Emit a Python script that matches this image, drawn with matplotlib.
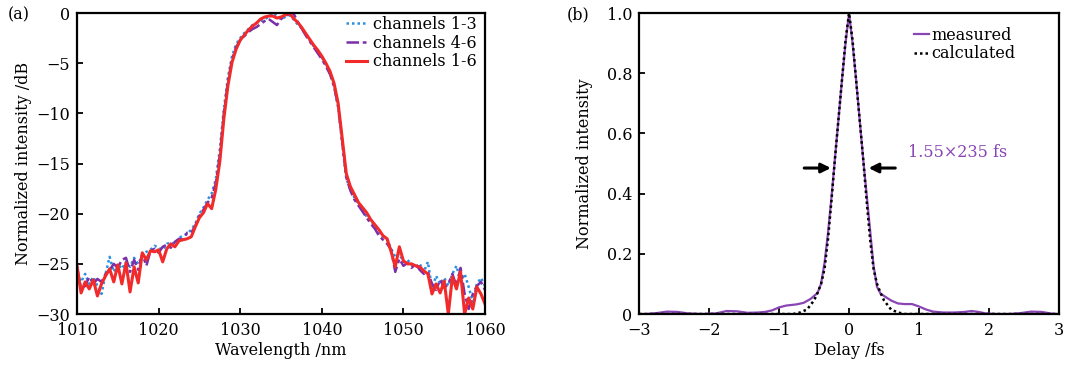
import matplotlib.pyplot as plt
import numpy as np

plt.rcParams['font.family'] = ['DejaVu Serif']
plt.rcParams['font.size'] = 11.5
plt.rcParams['mathtext.fontset'] = 'dejavuserif'

# (a) spectra, 0.5 nm step
wavelength = np.arange(1010, 1060.01, 0.5)

ch13 = [-26.0, -26.8, -26.0, -27.0, -26.3, -27.2, -28.0, -26.0, -24.3, -25.8,
        -25.0, -25.5, -24.8, -25.3, -24.4, -25.0, -24.2, -23.8, -23.6, -23.2,
        -23.4, -23.6, -23.0, -22.9, -23.0, -22.4, -22.2, -22.0, -21.6, -21.0,
        -20.0, -19.4, -18.6, -18.0, -16.6, -13.6, -9.5, -6.4, -4.3, -3.1,
        -2.5, -2.0, -1.6, -1.2, -1.0, -0.8, -0.6, -0.4, 0.0, -0.3,
        -0.6, -0.4, -0.2, -0.6, -1.1, -1.5, -2.1, -2.7, -3.3, -3.8,
        -4.4, -5.2, -6.0, -7.3, -9.4, -13.0, -16.5, -17.6, -18.4, -19.0,
        -19.6, -20.3, -20.7, -21.3, -21.8, -22.3, -22.6, -23.5, -24.3, -24.0,
        -24.8, -24.6, -25.1, -25.3, -25.0, -25.8, -24.8, -27.5, -26.2, -27.0,
        -26.4, -27.2, -26.0, -25.2, -26.7, -26.0, -27.3, -28.8, -27.0, -26.4,
        -27.2]

ch46 = [-25.3, -27.5, -27.2, -26.3, -27.0, -26.5, -26.8, -26.0, -25.6, -25.0,
        -25.4, -24.6, -24.4, -25.8, -24.6, -25.6, -24.0, -25.2, -23.7, -23.5,
        -23.9, -23.3, -23.1, -23.4, -22.8, -22.5, -22.6, -21.9, -21.9, -21.2,
        -20.2, -19.6, -18.9, -18.4, -17.0, -14.2, -10.0, -6.8, -4.6, -3.4,
        -2.7, -2.3, -1.9, -1.6, -1.4, -1.1, -0.8, -0.6, -0.9, -1.2,
        -0.6, -0.3, -0.1, 0.0, -0.8, -1.5, -2.2, -2.8, -3.4, -4.0,
        -4.6, -5.3, -6.1, -7.3, -9.3, -12.8, -16.4, -17.7, -18.6, -19.2,
        -19.8, -20.4, -21.0, -21.5, -22.2, -22.6, -23.0, -23.6, -25.8, -24.5,
        -25.2, -24.9, -25.4, -25.0, -25.6, -26.0, -25.8, -27.0, -27.6, -26.6,
        -27.4, -27.0, -26.0, -27.2, -25.4, -28.0, -29.5, -28.0, -27.2, -26.8,
        -27.6]

ch16 = [-25.2, -27.9, -26.8, -27.5, -26.6, -28.2, -27.0, -26.2, -25.5, -26.8,
        -25.1, -27.0, -24.9, -27.8, -25.3, -26.9, -23.9, -24.6, -23.7, -23.8,
        -23.6, -24.8, -23.5, -23.0, -23.3, -22.7, -22.6, -22.5, -22.3, -21.3,
        -20.4, -19.9, -19.0, -19.5, -17.6, -14.8, -10.5, -7.2, -4.9, -3.6,
        -2.7, -2.2, -1.7, -1.3, -1.0, -0.6, -0.4, -0.3, -0.3, -0.5,
        -0.4, -0.2, 0.0, -0.5, -0.9, -1.4, -2.0, -2.6, -3.2, -3.7,
        -4.3, -5.0, -5.8, -7.0, -9.0, -12.5, -16.0, -17.3, -18.1, -18.9,
        -19.4, -19.9, -20.6, -21.1, -21.6, -22.2, -22.5, -23.8, -25.3, -23.3,
        -24.7, -25.0, -25.0, -25.2, -25.3, -25.7, -26.0, -28.0, -27.0, -27.9,
        -26.7, -30.0, -26.3, -27.5, -25.8, -30.0, -28.4, -29.5, -27.3, -28.0,
        -29.0]

# (b) autocorrelation
delay_meas = [-3.0, -2.9, -2.75, -2.6, -2.45, -2.3, -2.1, -1.9, -1.75, -1.6,
              -1.45, -1.3, -1.2, -1.1, -1.0, -0.9, -0.75, -0.65, -0.55, -0.45,
              -0.4, -0.35, -0.3, -0.25, -0.2, -0.15, -0.1, -0.05, 0.0,
              0.05, 0.1, 0.15, 0.2, 0.25, 0.3, 0.35, 0.4, 0.45, 0.5,
              0.6, 0.7, 0.8, 0.9, 1.0, 1.1, 1.2, 1.35, 1.5, 1.65,
              1.75, 1.85, 1.95, 2.1, 2.3, 2.45, 2.6, 2.75, 2.9, 3.0]
measured = [0.0, 0.0, 0.003, 0.008, 0.007, 0.002, 0.0, 0.002, 0.010, 0.009,
            0.004, 0.005, 0.007, 0.012, 0.022, 0.028, 0.032, 0.037, 0.050, 0.070,
            0.100, 0.170, 0.270, 0.390, 0.520, 0.650, 0.780, 0.900, 1.0,
            0.900, 0.780, 0.650, 0.520, 0.400, 0.280, 0.160, 0.090, 0.068, 0.060,
            0.045, 0.035, 0.033, 0.033, 0.025, 0.015, 0.008, 0.005, 0.005, 0.007,
            0.010, 0.007, 0.002, 0.0, 0.0, 0.003, 0.008, 0.007, 0.001, 0.0]

delay_calc = [-3.0, -0.8, -0.7, -0.6, -0.5, -0.45, -0.4, -0.35, -0.3, -0.25,
              -0.2, -0.15, -0.1, -0.05, 0.0, 0.05, 0.1, 0.15, 0.2, 0.25,
              0.3, 0.35, 0.4, 0.45, 0.5, 0.6, 0.7, 0.8, 3.0]
calculated = [0.0, 0.0, 0.005, 0.015, 0.045, 0.07, 0.10, 0.15, 0.25, 0.38,
              0.52, 0.65, 0.78, 0.91, 1.0, 0.91, 0.78, 0.65, 0.52, 0.38,
              0.25, 0.15, 0.10, 0.07, 0.045, 0.015, 0.005, 0.0, 0.0]

fig = plt.figure(figsize=(10.8, 3.71), dpi=100)
ax1 = fig.add_axes([0.0713, 0.1536, 0.3778, 0.8113])
ax2 = fig.add_axes([0.5917, 0.1536, 0.3889, 0.8113])

ax1.plot(wavelength, ch13, ls=(0, (1, 1.2)), color='#2b8fe0', lw=1.8, label='channels 1-3')
ax1.plot(wavelength, ch46, ls=(0, (5, 1.5, 1.5, 1.5)), color='#7b2fa8', lw=1.8, label='channels 4-6')
ax1.plot(wavelength, ch16, ls='-', color='#f22a2a', lw=2.2, label='channels 1-6')
ax1.set_xlim(1010, 1060)
ax1.set_ylim(-30, 0)
ax1.set_xticks(range(1010, 1061, 10))
ax1.set_yticks(range(-30, 1, 5))
ax1.set_xlabel('Wavelength /nm', labelpad=2)
ax1.set_ylabel('Normalized intensity /dB', labelpad=3)
ax1.legend(loc='upper left', bbox_to_anchor=(0.66, 0.99), frameon=False,
           handlelength=1.3, handletextpad=0.35, labelspacing=0.1,
           borderaxespad=0, borderpad=0)
fig.text(8 / 1080, 0.96, '(a)', ha='left', va='center')

ax2.plot(delay_meas, measured, color='#8a45b5', lw=1.6, label='measured')
ax2.plot(delay_calc, calculated, ls=(0, (1, 1.2)), color='black', lw=1.8, label='calculated')
ax2.set_xlim(-3, 3)
ax2.set_ylim(0, 1.0)
ax2.set_xticks(range(-3, 4))
ax2.set_yticks([0, 0.2, 0.4, 0.6, 0.8, 1.0])
ax2.set_yticklabels(['0', '0.2', '0.4', '0.6', '0.8', '1.0'])
ax2.set_xlabel('Delay /fs', labelpad=2)
ax2.set_ylabel('Normalized intensity', labelpad=10)
ax2.legend(loc='upper left', bbox_to_anchor=(0.655, 0.955), frameon=False,
           handlelength=0.9, handletextpad=0.2, labelspacing=0.1,
           borderaxespad=0, borderpad=0)
fig.text(567 / 1080, 0.96, '(b)', ha='left', va='center')

ax2.annotate('', xy=(-0.22, 0.485), xytext=(-0.68, 0.485),
             arrowprops=dict(arrowstyle='-|>', color='black', lw=2.2, mutation_scale=14))
ax2.annotate('', xy=(0.24, 0.485), xytext=(0.70, 0.485),
             arrowprops=dict(arrowstyle='-|>', color='black', lw=2.2, mutation_scale=14))
ax2.text(0.84, 0.535, '1.55×235 fs', color='#8a45b5', ha='left', va='center')

for ax in (ax1, ax2):
    for s in ax.spines.values():
        s.set_linewidth(1.6)
    ax.tick_params(direction='in', length=4, width=1.3, top=False, right=False)
    ax.tick_params(axis='x', pad=6)
    ax.tick_params(axis='y', pad=5)

fig.savefig('out.png', dpi=100)
